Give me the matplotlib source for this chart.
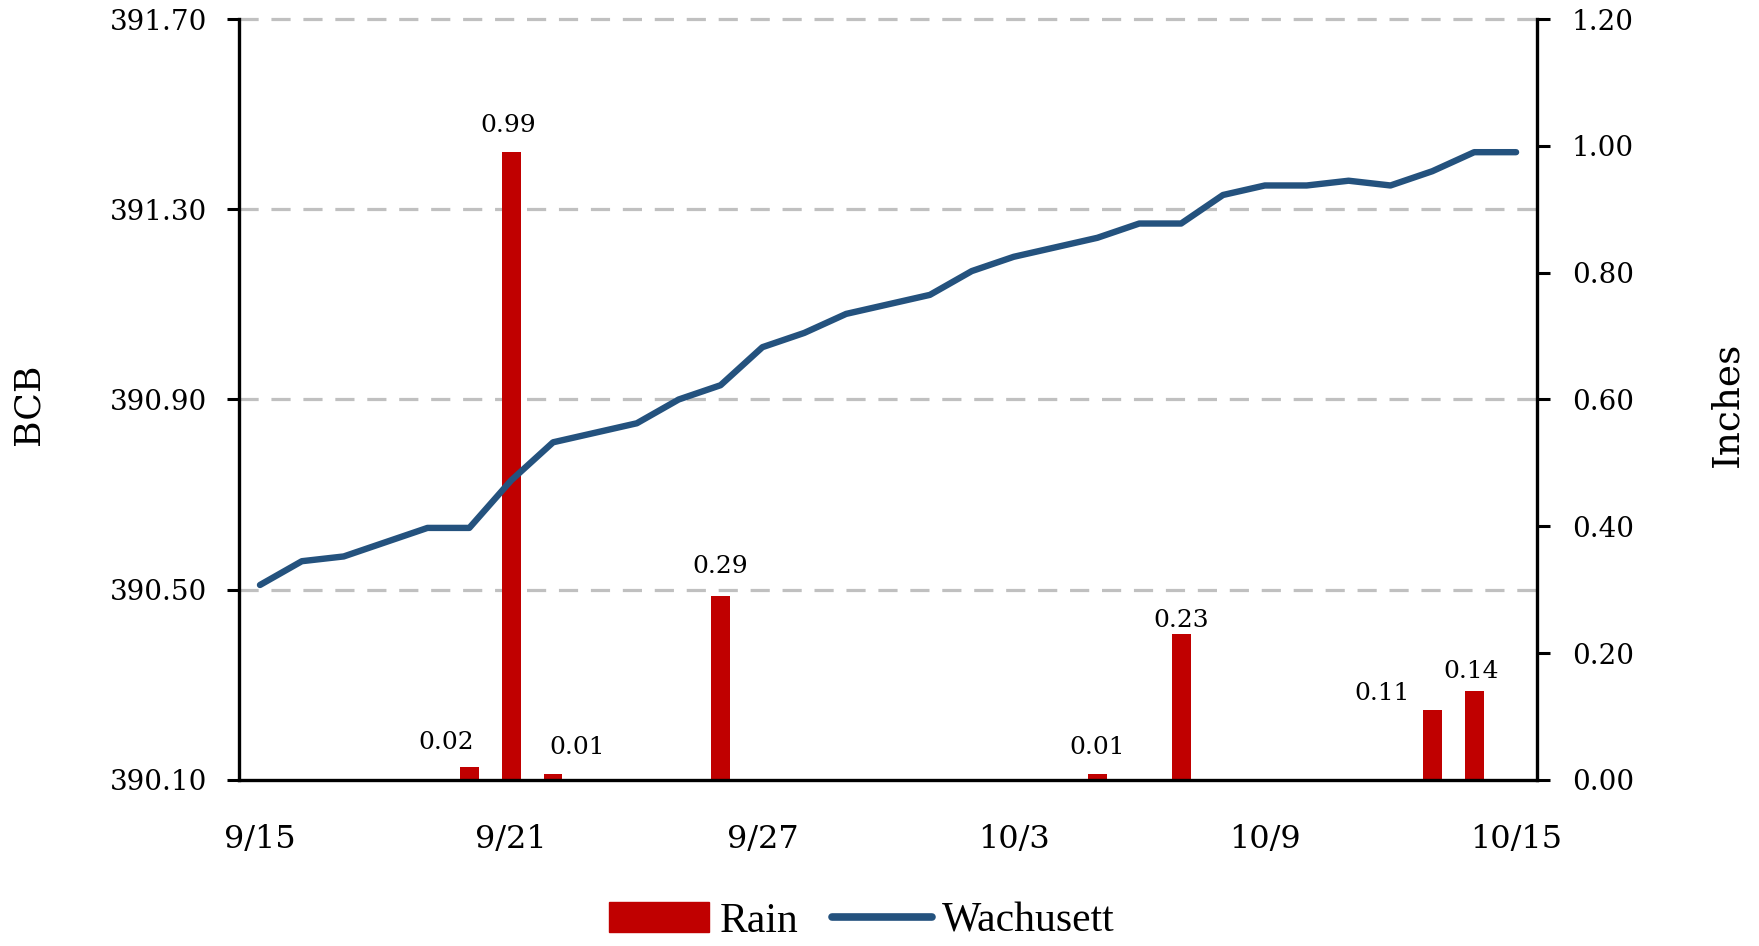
import matplotlib
matplotlib.use("Agg")
import matplotlib.pyplot as plt
import matplotlib.transforms as mtransforms
from matplotlib.lines import Line2D
from matplotlib.patches import Patch
import numpy as np

# days from 9/15 to 10/15
DAYS = list(range(31))
TICK_DAYS = [0, 6, 12, 18, 24, 30]
TICK_LABELS = ["9/15", "9/21", "9/27", "10/3", "10/9", "10/15"]

WACHUSETT = [
    390.51, 390.56, 390.57, 390.60, 390.63, 390.63, 390.73, 390.81, 390.83,
    390.85, 390.90, 390.93, 391.01, 391.04, 391.08, 391.10, 391.12, 391.17,
    391.20, 391.22, 391.24, 391.27, 391.27, 391.33, 391.35, 391.35, 391.36,
    391.35, 391.38, 391.42, 391.42,
]

RAIN_DAYS = [5, 6, 7, 11, 20, 22, 28, 29]
RAIN = [0.02, 0.99, 0.01, 0.29, 0.01, 0.23, 0.11, 0.14]

# label nudges in points (dx, dy above bar top)
LABEL_OFFSETS = [(-17, 18), (-2, 19), (17, 19), (0, 21), (0, 19), (0, 10), (-36, 12), (-2, 14)]

BCB_TICKS = [390.10, 390.50, 390.90, 391.30, 391.70]
INCH_TICKS = [0.0, 0.2, 0.4, 0.6, 0.8, 1.0, 1.2]

LINE_C = "#24527E"
BAR_C = "#C00000"
TICK_FONT = "DejaVu Serif"
LEG_FONT = "Liberation Serif"

fig = plt.figure(figsize=(17.59, 9.46), dpi=100)
ax = fig.add_axes([0.1359, 0.1755, 0.8738 - 0.1359, 0.9799 - 0.1755])
ax2 = ax.twinx()
ax.set_zorder(ax2.get_zorder() + 1)
ax.patch.set_visible(False)

# gridlines at the BCB ticks, drawn behind the bars
trans = mtransforms.blended_transform_factory(ax2.transAxes, ax.transData)
for v in BCB_TICKS[1:]:
    ax2.plot([0, 1], [v, v], transform=trans, color="#C0C0C0", lw=2.3,
             dashes=(6, 4), zorder=0, clip_on=False)

ax2.bar(RAIN_DAYS, RAIN, width=0.45, color=BAR_C, zorder=2)
for d, r, (dx, dy) in zip(RAIN_DAYS, RAIN, LABEL_OFFSETS):
    ax2.annotate(f"{r:.2f}", (d, r), xytext=(dx, dy), textcoords="offset points",
                 ha="center", va="center", fontsize=18, family=TICK_FONT)

ax.plot(DAYS, WACHUSETT, color=LINE_C, lw=4.6, solid_capstyle="round",
        solid_joinstyle="round", zorder=3)

ax.set_xlim(-0.5, 30.5)
ax.set_ylim(390.10, 391.70)
ax2.set_ylim(0, 1.2)
ax.set_yticks(BCB_TICKS)
ax.set_yticklabels([f"{v:.2f}" for v in BCB_TICKS])
ax2.set_yticks(INCH_TICKS)
ax2.set_yticklabels([f"{v:.2f}" for v in INCH_TICKS])
ax.set_xticks(TICK_DAYS)
ax.set_xticklabels(TICK_LABELS)

for a in (ax, ax2):
    for s in a.spines.values():
        s.set_visible(False)
ax.spines["left"].set_visible(True)
ax.spines["bottom"].set_visible(True)
ax2.spines["right"].set_visible(True)
for s in (ax.spines["left"], ax.spines["bottom"], ax2.spines["right"]):
    s.set_linewidth(2.4)
    s.set_color("black")

ax.tick_params(axis="y", length=9, width=2.2, pad=14, labelsize=20)
ax2.tick_params(axis="y", length=9, width=2.2, pad=16, labelsize=20)
ax.tick_params(axis="x", length=0, pad=32, labelsize=23)
for lab in ax.get_xticklabels() + ax.get_yticklabels() + ax2.get_yticklabels():
    lab.set_family(TICK_FONT)

fig.text(0.016, 0.573, "BCB", rotation=90, ha="center", va="center",
         fontsize=26, family=TICK_FONT)
fig.text(0.982, 0.573, "Inches", rotation=90, ha="center", va="center",
         fontsize=27, family=TICK_FONT)

handles = [Patch(color=BAR_C), Line2D([0], [0], color=LINE_C, lw=5.5, solid_capstyle="round")]
fig.legend(handles, ["Rain", "Wachusett"], loc="center", bbox_to_anchor=(0.49, 0.026),
           ncol=2, frameon=False, prop={"family": LEG_FONT, "size": 30},
           handlelength=2.4, handletextpad=0.25, columnspacing=0.8,
           borderpad=0.2)

fig.savefig("out.png", dpi=100)
